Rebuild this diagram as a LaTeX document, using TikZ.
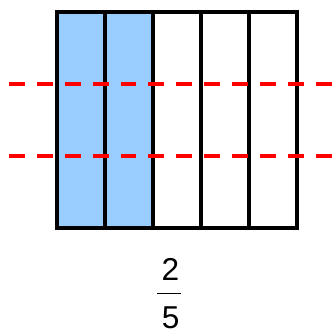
\documentclass[tikz,border=0pt]{standalone}
\usepackage{fontspec}
\setmainfont{Liberation Sans}
\usepackage{tikz}
\usetikzlibrary{positioning, calc}
\definecolor{parteazul}{RGB}{153,204,255}
\tikzset{
  celda/.style={line width=3.4pt, draw=black},
  corte/.style={line width=3.4pt, draw=red, dash pattern=on 13.6pt off 10.2pt},
  cifra/.style={font=\fontsize{27}{30}\selectfont, inner sep=0pt}
}

\begin{document}
\begin{tikzpicture}[x=0.03cm, y=-0.03cm]
    % Marco de la figura
    \useasboundingbox (0,0) rectangle (332,331);

    % ==========================================
    % 1. Rectangulo dividido en 5 partes
    % ==========================================

    % Partes coloreadas (2 de 5)
    \foreach \i in {0,1} {
        \fill[parteazul] (56.7+\i*48.06, 12.3) rectangle (56.7+\i*48.06+48.06, 228);
    }

    % Contorno de las cinco partes
    \foreach \i in {0,...,4} {
        \draw[celda] (56.7+\i*48.06, 12.3) rectangle (56.7+\i*48.06+48.06, 228);
    }

    % ==========================================
    % 2. Lineas de corte (rojas discontinuas)
    % ==========================================
    \coordinate (C1a) at (9, 84);   \coordinate (C1b) at (332, 84);
    \coordinate (C2a) at (9, 156);  \coordinate (C2b) at (332, 156);
    \draw[corte] (C1a) -- (C1b);
    \draw[corte] (C2a) -- (C2b);

    % ==========================================
    % 3. Fraccion 2/5
    % ==========================================
    \node[cifra] (num) at (170.3, 269.7) {2};
    \node[cifra] (den) at (170.6, 317.8) {5};
    \coordinate (barraI) at (157.3, 293.3);
    \coordinate (barraD) at (181, 293.3);
    \draw[line width=1.1pt] (barraI) -- (barraD);

\end{tikzpicture}
\end{document}
